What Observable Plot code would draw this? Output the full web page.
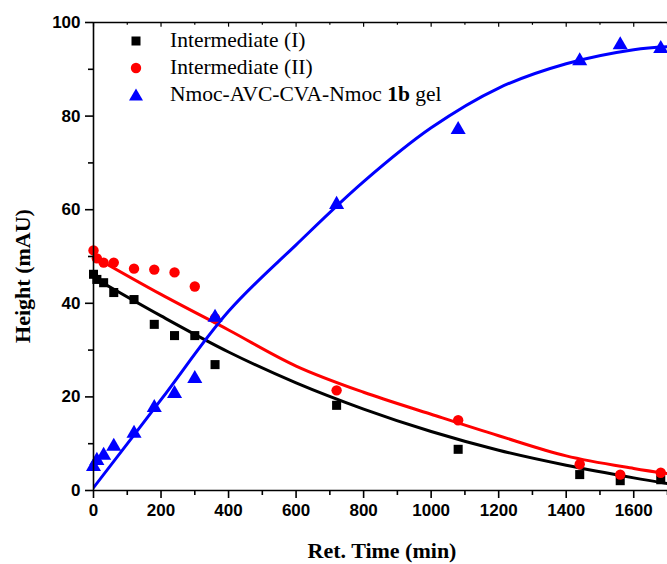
<!DOCTYPE html>
<html>
<head>
<meta charset="utf-8">
<script src="https://cdn.jsdelivr.net/npm/d3@7"></script>
<script src="https://cdn.jsdelivr.net/npm/@observablehq/plot@0.6"></script>
<style>
  html, body { margin: 0; padding: 0; background: #fff; }
  #wrap { position: relative; width: 667px; height: 564px; overflow: hidden; }
  .ttl { position: absolute; font-family: "Liberation Serif", "Times New Roman", serif; font-weight: bold; font-size: 22px; color: #000; white-space: nowrap; line-height: 1; }
  #legend { position: absolute; left: 126px; top: 27px; font-family: "Liberation Serif", "Times New Roman", serif; font-size: 21.5px; color: #000; }
  .row { height: 27px; display: flex; align-items: center; white-space: nowrap; }
  .row svg { width: 20px; height: 20px; margin-right: 24px; flex: none; }
</style>
</head>
<body>
<div id="wrap">
  <div id="chart"></div>
  <div id="legend"></div>
  <div class="ttl" id="ytitle" style="left:23px; top:276px; transform: translate(-50%,-50%) rotate(-90deg);">Height (mAU)</div>
  <div class="ttl" id="xtitle" style="left:382px; top:551px; transform: translate(-50%,-50%);">Ret. Time (min)</div>
</div>
<script>
// ---- data ----
const times = [0, 10, 30, 60, 120, 180, 240, 300, 360, 720, 1080, 1440, 1560, 1680];
const interI = [46.2, 45.1, 44.4, 42.3, 40.8, 35.5, 33.1, 33.1, 26.9, 18.2, 8.8, 3.4, 2.1, 2.3];
const interII = [51.3, 49.6, 48.7, 48.7, 47.4, 47.2, 46.6, 43.6, 36.8, 21.4, 15.0, 5.6, 3.4, 3.8];
const gel = [5.1, 6.4, 7.5, 9.4, 12.2, 17.7, 20.7, 23.9, 37.0, 61.1, 77.1, 91.8, 95.2, 94.4];

// fitted curves
const fitTimes = [0, 200, 400, 600, 800, 1000, 1200, 1400, 1600, 1700];
const fitI = [45.5, 37.3, 29.6, 23.0, 17.4, 12.6, 8.6, 5.4, 2.7, 1.5];
const fitII = [50.0, 41.9, 34.3, 26.6, 21.0, 16.3, 11.7, 7.4, 4.7, 3.6];
const fitGel = [0.6, 19.4, 38.3, 52.5, 66.0, 77.5, 86.0, 91.2, 94.2, 94.8];

const xTicks = [0, 200, 400, 600, 800, 1000, 1200, 1400, 1600];
const xMinor = [100, 300, 500, 700, 900, 1100, 1300, 1500, 1700];
const yTicks = [0, 20, 40, 60, 80, 100];
const yMinor = [10, 30, 50, 70, 90];

const seriesNames = ["Intermediate (I)", "Intermediate (II)", "Nmoc-AVC-CVA-Nmoc 1b gel"];
const colors = ["#000000", "#ff0000", "#0000ff"];
const symbols = ["square", "circle", "triangle"];

const pts = (vals) => times.map((t, i) => ({t, v: vals[i]}));
const fit = (vals) => fitTimes.map((t, i) => ({t, v: vals[i]}));

const chart = Plot.plot({
  width: 667,
  height: 564,
  marginLeft: 93,
  marginRight: 0,
  marginTop: 22,
  marginBottom: 74,
  x: {domain: [0, 1700], label: null},
  y: {domain: [0, 100], label: null},
  style: {fontFamily: "'Liberation Sans', Arial, sans-serif", fontSize: "17px", fontWeight: "bold", color: "#000", background: "transparent", overflow: "visible"},
  marks: [
    Plot.line(fit(fitI), {x: "t", y: "v", stroke: colors[0], strokeWidth: 3, curve: "catmull-rom", clip: true}),
    Plot.line(fit(fitII), {x: "t", y: "v", stroke: colors[1], strokeWidth: 3, curve: "catmull-rom", clip: true}),
    Plot.line(fit(fitGel), {x: "t", y: "v", stroke: colors[2], strokeWidth: 3, curve: "catmull-rom", clip: true}),
    Plot.dot(pts(interI), {x: "t", y: "v", symbol: symbols[0], r: 5.1, fill: colors[0], stroke: "none"}),
    Plot.dot(pts(interII), {x: "t", y: "v", symbol: symbols[1], r: 5.2, fill: colors[1], stroke: "none"}),
    Plot.dot(pts(gel), {x: "t", y: "v", symbol: symbols[2], r: 5.6, fill: colors[2], stroke: "none"}),
    Plot.axisX({ticks: xTicks, tickSize: 8, tickPadding: 5, strokeWidth: 1.6, tickFormat: d => String(d)}),
    Plot.axisX({ticks: xMinor, tickSize: 5, strokeWidth: 1.6, tickFormat: () => ""}),
    Plot.axisY({ticks: yTicks, tickSize: 8, tickPadding: 5, strokeWidth: 1.6, tickFormat: d => String(d)}),
    Plot.axisY({ticks: yMinor, tickSize: 5, strokeWidth: 1.6, tickFormat: () => ""}),
    Plot.ruleX(xTicks, {x: d => d, y1: 100, y2: 99, strokeWidth: 1.2}),
    Plot.ruleX(xMinor, {x: d => d, y1: 100, y2: 99.4, strokeWidth: 1.2}),
    Plot.ruleY([0, 100], {strokeWidth: 1.6}),
    Plot.ruleX([0], {strokeWidth: 1.6})
  ]
});
document.getElementById("chart").appendChild(chart);

// legend
const legend = document.getElementById("legend");
const markerSvg = [
  '<svg viewBox="-10 -10 20 20"><rect x="-4.5" y="-4.5" width="9" height="9" fill="#000"/></svg>',
  '<svg viewBox="-10 -10 20 20"><circle r="5.2" fill="#ff0000"/></svg>',
  '<svg viewBox="-10 -10 20 20"><path d="M0,-6.5L7,5.5L-7,5.5Z" fill="#0000ff"/></svg>'
];
const labelHtml = [
  "Intermediate (I)",
  "Intermediate (II)",
  "Nmoc-AVC-CVA-Nmoc <b>1b</b> gel"
];
seriesNames.forEach((name, i) => {
  const row = document.createElement("div");
  row.className = "row";
  row.innerHTML = markerSvg[i] + "<span>" + labelHtml[i] + "</span>";
  legend.appendChild(row);
});
</script>
</body>
</html>
